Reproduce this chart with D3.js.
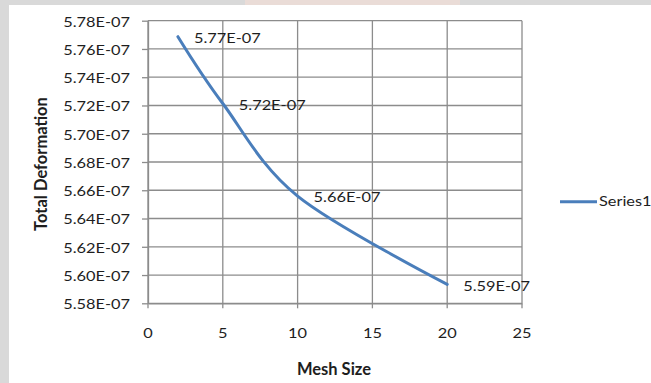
<!DOCTYPE html>
<html>
<head>
<meta charset="utf-8">
<script src="https://cdn.jsdelivr.net/npm/d3@7"></script>
<style>
  html, body { margin: 0; padding: 0; background: #ffffff; }
  svg { display: block; }
  text { font-family: Lato, "Open Sans", sans-serif; fill: #1e1e1e; }
</style>
</head>
<body>
<svg id="chart" width="651" height="383"></svg>
<script>
// Mesh convergence data: total deformation against mesh size
const meshSize = [2, 5, 10, 20];
const totalDeformation = [5.7687e-7, 5.7214e-7, 5.6559e-7, 5.5934e-7];
const seriesName = "Series1";

// Axis ticks
const xTicks = [0, 5, 10, 15, 20, 25];
const yTicks = [5.58e-7, 5.60e-7, 5.62e-7, 5.64e-7, 5.66e-7, 5.68e-7,
                5.70e-7, 5.72e-7, 5.74e-7, 5.76e-7, 5.78e-7];

const xTitle = "Mesh Size";
const yTitle = "Total Deformation";

// Spreadsheet-style scientific format, e.g. 5.77E-07
function sci(v) {
  const [m, e] = v.toExponential(2).split("e");
  const n = +e;
  return m + "E" + (n < 0 ? "-" : "+") + String(Math.abs(n)).padStart(2, "0");
}

const W = 651, H = 383;
const plot = { left: 148, right: 522, top: 20.7, bottom: 303.3 };
const lineColor = "#4a7ebb";
const gridColor = "#8c8c8c";
const sx = 1.26; // horizontal widening of the label type

const svg = d3.select("#chart");

// frame around the chart sheet
svg.append("rect").attr("x", 0).attr("y", 0).attr("width", W).attr("height", H).attr("fill", "#d9d9d9");
svg.append("rect").attr("x", 245).attr("y", 0).attr("width", 215).attr("height", 5).attr("fill", "#eadcd7");
svg.append("rect").attr("x", 9).attr("y", 5).attr("width", W - 9).attr("height", H - 5).attr("fill", "#ffffff");

const x = d3.scaleLinear().domain([0, 25]).range([plot.left, plot.right]);
const y = d3.scaleLinear().domain([5.58e-7, 5.78e-7]).range([plot.bottom, plot.top]);

// gridlines
const grid = svg.append("g").attr("stroke", gridColor).attr("stroke-width", 1.3);
grid.selectAll("line.h").data(yTicks).join("line")
  .attr("x1", plot.left).attr("x2", plot.right)
  .attr("y1", d => y(d)).attr("y2", d => y(d));
grid.selectAll("line.v").data(xTicks).join("line")
  .attr("x1", d => x(d)).attr("x2", d => x(d))
  .attr("y1", plot.top).attr("y2", plot.bottom);

// y axis
const yAxis = svg.append("g")
  .attr("transform", `translate(${plot.left},0)`)
  .call(d3.axisLeft(y).tickValues(yTicks).tickFormat(sci).tickSize(6).tickSizeOuter(0));
yAxis.select(".domain").attr("stroke", gridColor).attr("stroke-width", 1.3);
yAxis.selectAll(".tick line").attr("stroke", gridColor).attr("stroke-width", 1.3);
yAxis.selectAll(".tick text")
  .attr("x", -18 / sx).attr("dy", "0.42em")
  .attr("transform", `scale(${sx},1)`)
  .style("font-size", "13px").attr("fill", "#1e1e1e");

// x axis
const xAxis = svg.append("g")
  .attr("transform", `translate(0,${plot.bottom})`)
  .call(d3.axisBottom(x).tickValues(xTicks).tickFormat(d3.format("d")).tickSize(5).tickSizeOuter(0));
xAxis.select(".domain").attr("stroke", gridColor).attr("stroke-width", 1.3);
xAxis.selectAll(".tick line").attr("stroke", gridColor).attr("stroke-width", 1.3);
xAxis.selectAll(".tick").each(function (d) {
  const t = d3.select(this);
  t.attr("transform", `translate(${x(d)},0)`);
  t.select("text")
    .attr("y", 34.7).attr("dy", 0).attr("x", 0)
    .attr("transform", `scale(${sx},1)`)
    .style("font-size", "13px").attr("fill", "#1e1e1e");
});

// axis titles
svg.append("text")
  .attr("x", (plot.left + plot.right) / 2 - 1).attr("y", 375)
  .attr("text-anchor", "middle")
  .style("font-size", "16.5px").style("font-weight", "bold")
  .text(xTitle);
svg.append("text")
  .attr("transform", `translate(47,${(plot.top + plot.bottom) / 2 + 2}) rotate(-90)`)
  .attr("text-anchor", "middle")
  .style("font-size", "16.5px").style("font-weight", "bold")
  .text(yTitle);

// smoothed series line
const pts = meshSize.map((m, i) => [m, totalDeformation[i]]);
const line = d3.line()
  .x(d => x(d[0])).y(d => y(d[1]))
  .curve(d3.curveCardinal.tension(0));
svg.append("path")
  .datum(pts)
  .attr("d", line)
  .attr("fill", "none")
  .attr("stroke", lineColor)
  .attr("stroke-width", 3)
  .attr("stroke-linecap", "round");

// data labels to the right of each point
svg.append("g").selectAll("text").data(pts).join("text")
  .attr("transform", d => `translate(${x(d[0]) + 16},${y(d[1]) + 1.5}) scale(${sx},1)`)
  .attr("dy", "0.36em")
  .style("font-size", "13px")
  .text(d => sci(d[1]));

// legend
const lg = svg.append("g").attr("transform", "translate(560,201.7)");
lg.append("line").attr("x1", 0).attr("x2", 37).attr("y1", 0).attr("y2", 0)
  .attr("stroke", lineColor).attr("stroke-width", 3);
lg.append("text")
  .attr("transform", `translate(39,0) scale(${sx},1)`)
  .attr("dy", "0.36em")
  .style("font-size", "13px")
  .text(seriesName);
</script>
</body>
</html>
